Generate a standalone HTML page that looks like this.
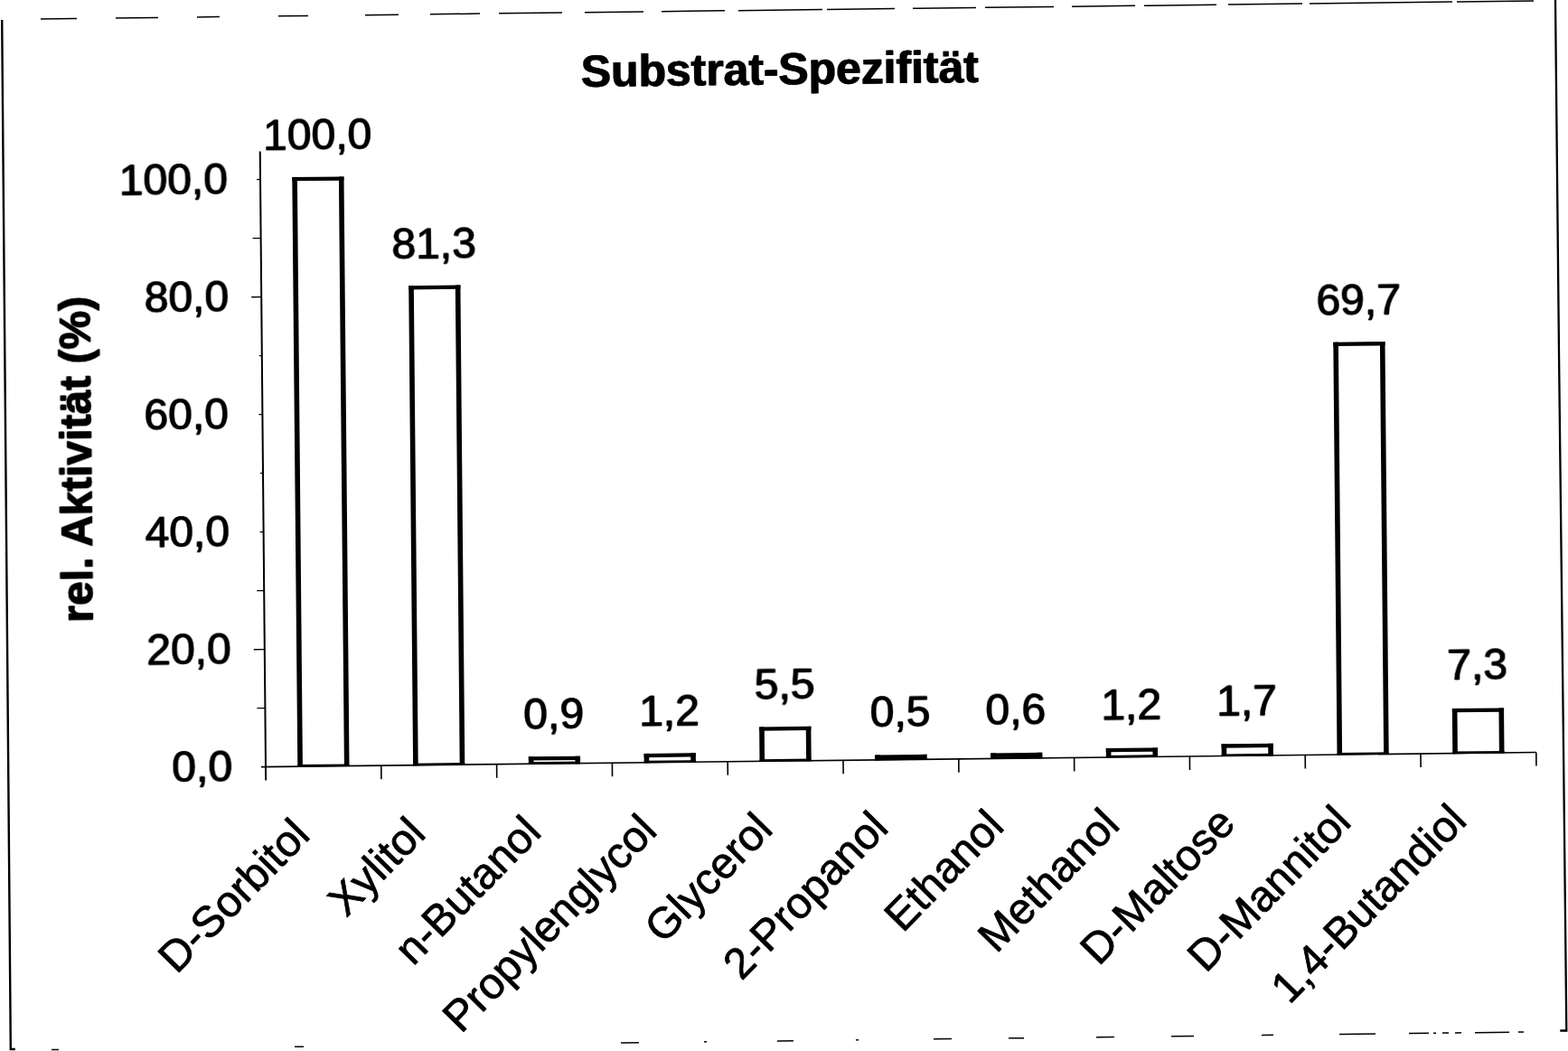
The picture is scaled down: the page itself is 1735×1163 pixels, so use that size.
<!DOCTYPE html>
<html lang="de">
<head>
<meta charset="utf-8">
<title>Substrat-Spezifität</title>
<style>
html,body{margin:0;padding:0;background:#fff;}
body{width:1735px;height:1163px;overflow:hidden;}
svg{display:block;}
text{font-family:"Liberation Sans",Arial,Helvetica,sans-serif;fill:#000;stroke:#000;stroke-linejoin:round;stroke-width:0.3;}
.n{font-size:48px;}
.t{font-size:49.8px;font-weight:bold;}
.y{font-size:48px;font-weight:bold;stroke-width:0.6;}
.c text{stroke-width:0.8;}
.bar{fill:none;stroke:#000;stroke-width:5.6;}
.bt{fill:none;stroke:#000;stroke-width:4.3;}
.av{stroke:#000;stroke-width:2;fill:none;}
.tk{stroke:#000;stroke-width:1.3;fill:none;}
.tx{stroke:#000;stroke-width:1.6;fill:none;}
.bb{stroke:#000;stroke-width:2.6;fill:none;}
.ah{stroke:#000;stroke-width:1.6;fill:none;}
.bd{stroke:#000;stroke-width:1.5;fill:none;}
.bl{stroke-width:2.4;}
.br{stroke-width:2.3;}
</style>
</head>
<body>
<svg width="1735" height="1163" viewBox="0 0 1735 1163" role="img" aria-label="Substrat-Spezifität">
<defs>
<filter id="smear" filterUnits="userSpaceOnUse" x="0" y="0" width="1735" height="1163" color-interpolation-filters="sRGB">
<feOffset in="SourceGraphic" dx="1" dy="0" result="o"/>
<feMerge><feMergeNode in="SourceGraphic"/><feMergeNode in="o"/></feMerge>
</filter>
</defs>
<rect x="0" y="0" width="1735" height="1163" fill="#fff"/>
<g class="bd">
<path class="bl" d="M2.2 22 L11.8 1161 h5"/>
<path class="br" d="M1721 0 L1725 390 L1729.6 790 L1733.3 1140.5 h-7"/>
<path d="M45 21.00 L85 20.52 M128 20.00 L175 19.43 M218 18.91 L243 18.60 M308 17.82 L341 17.42 M404 16.65 L441 16.21 M476 15.78 L531 15.12 M552 14.86 L622 14.01 M647 13.71 L712 12.92 M732 12.68 L802 11.84 M817 11.65 L910 10.53 M915 10.47 L990 9.56 M1010 9.32 L1080 8.47 M1090 8.35 L1166 7.43 M1186 7.19 L1256 6.34 M1266 6.22 L1346 5.25 M1359 5.09 L1441 4.10 M1449 4.00 L1607 2.09 M1612 2.03 L1697 1.00"/>
<path d="M57 1161.50 L65 1161.40 M326 1158.28 L336 1158.16 M687 1153.96 L707 1153.72 M779 1152.86 L782 1152.83 M860 1151.89 L878 1151.68 M947 1150.85 L950 1150.82 M1033 1149.82 L1053 1149.58 M1116 1148.83 L1133 1148.63 M1213 1147.67 L1233 1147.43 M1296 1146.68 L1321 1146.38 M1396 1145.48 L1409 1145.33 M1482 1144.45 L1522 1143.97 M1559 1143.53 L1581 1143.27 M1586 1143.21 L1589 1143.17 M1596 1143.09 L1603 1143.00 M1610 1142.92 L1617 1142.84 M1632 1142.66 L1670 1142.20 M1680 1142.08 L1686 1142.01"/>
</g>
<g transform="matrix(1 -0.0114 0.0092 1 -7.8071 3.3516)">
<path class="av" d="M294 167.6 V863.6"/>
<path class="ah" d="M289 848.6 H1699.8"/>
<path class="tk" d="M285 783.60 h9 M282 718.60 h12 M286 653.60 h8 M290 588.60 h4 M291 523.60 h3 M290 458.60 h4 M291 393.60 h3 M283 328.60 h11 M285 263.60 h9 M290 198.60 h4"/>
<path class="tx" d="M421.80 848.6 v15 M549.60 848.6 v15 M677.40 848.6 v15 M805.20 848.6 v15 M933.00 848.6 v15 M1060.80 848.6 v15 M1188.60 848.6 v15 M1316.40 848.6 v15 M1444.20 848.6 v15 M1572.00 848.6 v15 M1699.80 848.6 v15"/>
<path class="bar" d="M332.10 849.1 V196.45 M383.70 849.1 V196.45"/><path class="bt" d="M329.30 198.60 H386.50"/><path class="bb" d="M329.30 847.80 H386.50"/>
<path class="bar" d="M459.90 849.1 V318.00 M511.50 849.1 V318.00"/><path class="bt" d="M457.10 320.15 H514.30"/><path class="bb" d="M457.10 847.80 H514.30"/>
<path class="bar" d="M587.70 849.1 V840.60 M639.30 849.1 V840.60"/><path class="bt" d="M584.90 842.75 H642.10"/><path class="bb" d="M584.90 847.80 H642.10"/>
<path class="bar" d="M715.50 849.1 V838.65 M767.10 849.1 V838.65"/><path class="bt" d="M712.70 840.80 H769.90"/><path class="bb" d="M712.70 847.80 H769.90"/>
<path class="bar" d="M843.30 849.1 V810.70 M894.90 849.1 V810.70"/><path class="bt" d="M840.50 812.85 H897.70"/><path class="bb" d="M840.50 847.80 H897.70"/>
<path class="bar" d="M971.10 849.1 V843.20 M1022.70 849.1 V843.20"/><path class="bt" d="M968.30 845.35 H1025.50"/><path class="bb" d="M968.30 847.80 H1025.50"/>
<path class="bar" d="M1098.90 849.1 V842.55 M1150.50 849.1 V842.55"/><path class="bt" d="M1096.10 844.70 H1153.30"/><path class="bb" d="M1096.10 847.80 H1153.30"/>
<path class="bar" d="M1226.70 849.1 V838.65 M1278.30 849.1 V838.65"/><path class="bt" d="M1223.90 840.80 H1281.10"/><path class="bb" d="M1223.90 847.80 H1281.10"/>
<path class="bar" d="M1354.50 849.1 V835.40 M1406.10 849.1 V835.40"/><path class="bt" d="M1351.70 837.55 H1408.90"/><path class="bb" d="M1351.70 847.80 H1408.90"/>
<path class="bar" d="M1482.30 849.1 V392.20 M1533.90 849.1 V392.20"/><path class="bt" d="M1479.50 394.35 H1536.70"/><path class="bb" d="M1479.50 847.80 H1536.70"/>
<path class="bar" d="M1610.10 849.1 V799.00 M1661.70 849.1 V799.00"/><path class="bt" d="M1607.30 801.15 H1664.50"/><path class="bb" d="M1607.30 847.80 H1664.50"/>
</g>
<g filter="url(#smear)" transform="translate(-0.5 0)">
<g transform="matrix(1 -0.0114 0.0092 1 -7.8071 3.3516)">
<text class="t" x="869.9" y="100" text-anchor="middle">Substrat-Spezifität</text>
<text class="y" transform="translate(104 506) rotate(-90)" text-anchor="middle">rel. Aktivität (%)</text>
<g class="n" text-anchor="end">
<text x="257.1" y="863.90">0,0</text>
<text x="256.9" y="733.90">20,0</text>
<text x="256.4" y="603.90">40,0</text>
<text x="256.5" y="473.90">60,0</text>
<text x="257.9" y="343.90">80,0</text>
<text x="257.9" y="213.90">100,0</text>
</g>
<g class="n" text-anchor="middle">
<text x="357.60" y="166.20">100,0</text>
<text x="485.40" y="287.58">81,3</text>
<text x="613.20" y="810.01">0,9</text>
<text x="741.00" y="807.89">1,2</text>
<text x="868.80" y="779.77">5,5</text>
<text x="996.60" y="812.10">0,5</text>
<text x="1124.40" y="811.28">0,6</text>
<text x="1252.20" y="807.21">1,2</text>
<text x="1380.00" y="803.79">1,7</text>
<text x="1507.80" y="361.62">69,7</text>
<text x="1635.60" y="767.05">7,3</text>
</g>
</g>
</g>
<g transform="matrix(1 -0.0114 0.0092 1 -7.8071 3.3516)">
<g class="n c" text-anchor="end">
<text transform="translate(344.30 926.70) rotate(-45)">D-Sorbitol</text>
<text transform="translate(472.29 926.55) rotate(-45)">Xylitol</text>
<text transform="translate(600.28 926.40) rotate(-45)">n-Butanol</text>
<text transform="translate(728.27 926.25) rotate(-45)">Propylenglycol</text>
<text transform="translate(856.26 926.10) rotate(-45)">Glycerol</text>
<text transform="translate(984.25 925.95) rotate(-45)">2-Propanol</text>
<text transform="translate(1112.24 925.80) rotate(-45)">Ethanol</text>
<text transform="translate(1240.23 925.65) rotate(-45)">Methanol</text>
<text transform="translate(1368.22 925.50) rotate(-45)">D-Maltose</text>
<text transform="translate(1496.21 925.35) rotate(-45)">D-Mannitol</text>
<text transform="translate(1624.20 925.20) rotate(-45)">1,4-Butandiol</text>
</g>
</g>
</svg>
</body>
</html>
